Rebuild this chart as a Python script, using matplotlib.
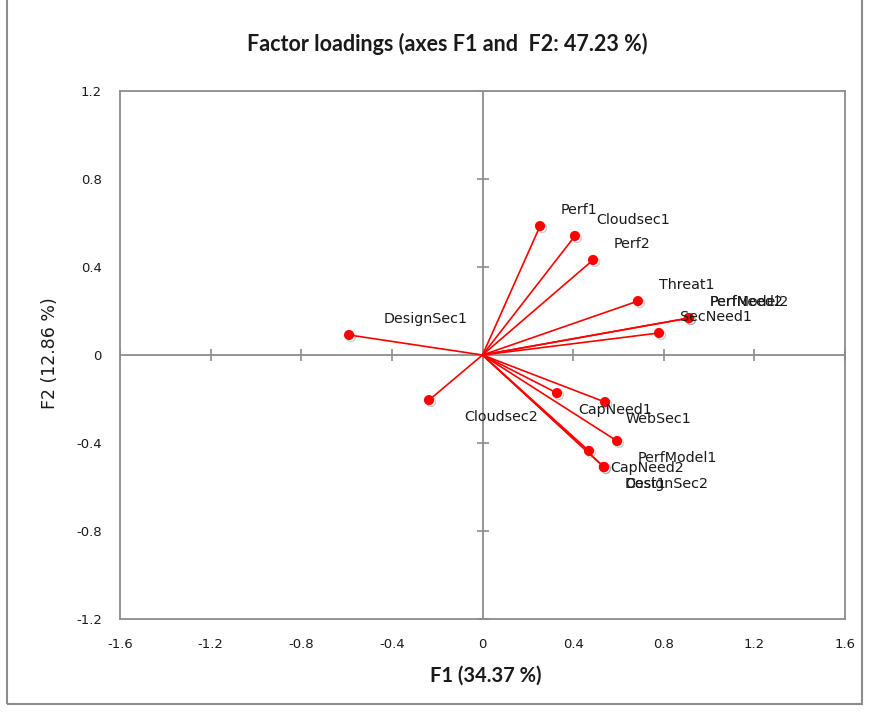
import matplotlib
matplotlib.use("Agg")
import matplotlib.pyplot as plt
import matplotlib.patheffects as pe
from matplotlib.patches import Rectangle
import numpy as np

# Factor loadings on F1 / F2
variables = ["Perf1", "Cloudsec1", "Perf2", "Threat1", "PerfNeed2", "PerfModel2",
             "SecNeed1", "DesignSec1", "Cloudsec2", "CapNeed1", "WebSec1",
             "PerfModel1", "CapNeed2", "Cost1", "DesignSec2"]
f1 = [0.254, 0.408, 0.488, 0.686, 0.911, 0.911,
      0.779, -0.589, -0.236, 0.329, 0.541,
      0.594, 0.470, 0.536, 0.536]
f2 = [0.586, 0.541, 0.432, 0.245, 0.168, 0.168,
      0.100, 0.091, -0.205, -0.173, -0.214,
      -0.391, -0.436, -0.509, -0.509]

title = "Factor loadings (axes F1 and  F2: 47.23 %)"
xlabel = "F1 (34.37 %)"
ylabel = "F2 (12.86 %)"
xticks = [-1.6, -1.2, -0.8, -0.4, 0, 0.4, 0.8, 1.2, 1.6]
yticks = [-1.2, -0.8, -0.4, 0, 0.4, 0.8, 1.2]

fig = plt.figure(figsize=(8.76, 7.17), dpi=100)
fig.patch.set_facecolor("white")

# outer chart frame
fig.add_artist(Rectangle((7 / 876, 13 / 717), 855 / 876, 0.99, transform=fig.transFigure,
                         fill=False, edgecolor="#8c8c8c", linewidth=1.5))

ax = fig.add_axes([120 / 876, 98 / 717, 725 / 876, 528 / 717])
ax.set_xlim(-1.6, 1.6)
ax.set_ylim(-1.2, 1.2)

for s in ax.spines.values():
    s.set_color("#8c8c8c")
    s.set_linewidth(1.3)

ax.set_xticks(xticks)
ax.set_yticks(yticks)
ax.set_xticklabels([f"{t:g}".replace("-", "\u2010") if t < 0 else f"{t:g}" for t in xticks])
ax.set_yticklabels([f"{t:g}".replace("-", "\u2010") if t < 0 else f"{t:g}" for t in yticks])
ax.tick_params(length=0, labelsize=9.5, colors="#1a1a1a")
ax.tick_params(axis="x", pad=14)
ax.tick_params(axis="y", pad=13)

# zero axes with cross ticks
gray = "#8c8c8c"
ax.axhline(0, color=gray, lw=1.3, zorder=1)
ax.axvline(0, color=gray, lw=1.3, zorder=1)
ax.plot(xticks, np.zeros(len(xticks)), linestyle="none", marker="|", ms=9,
        mew=1.2, color=gray, zorder=1)
ax.plot(np.zeros(len(yticks)), yticks, linestyle="none", marker="_", ms=9,
        mew=1.2, color=gray, zorder=1)

shadow = [pe.SimpleLineShadow(offset=(1.5, -1.5), shadow_color="#777777", alpha=0.35),
          pe.Normal()]

for name, x, y in zip(variables, f1, f2):
    ax.plot([0, x], [0, y], color="#ff0000", lw=1.2, zorder=3)
    ax.plot([x], [y], marker="o", ms=6.3, color="#ff0000", mec="#ff0000",
            zorder=4, path_effects=shadow)
    dx = 15 if x > 0 else 25
    dy = 11.5 if y > 0 else -12
    ax.annotate(name, (x, y), xytext=(dx, dy), textcoords="offset points",
                ha="left", va="center", fontsize=10.3, color="#1a1a1a", zorder=5)

fig.text(447 / 876, 1 - 44 / 717, title, ha="center", va="center",
         fontsize=15.5, fontweight="bold", family="Lato", color="#1a1a1a")
fig.text(486 / 876, 1 - 676 / 717, xlabel, ha="center", va="center",
         fontsize=14.5, fontweight="bold", family="Lato", color="#1a1a1a")
fig.text(50 / 876, 1 - 353 / 717, ylabel, ha="center", va="center", rotation=90,
         fontsize=12.5, family="DejaVu Sans", color="#1a1a1a")

fig.savefig("out.png", dpi=100, facecolor="white")
